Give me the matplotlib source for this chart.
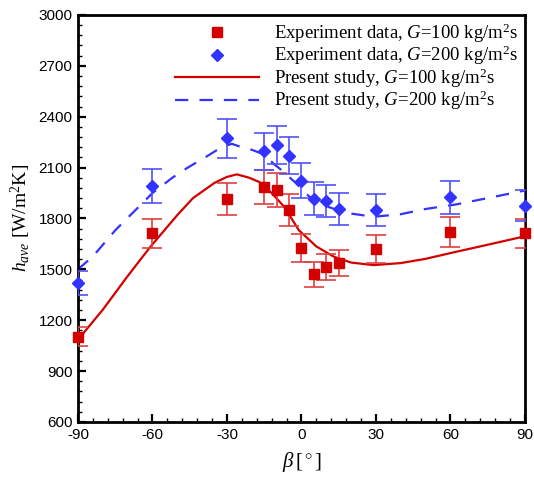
import matplotlib
matplotlib.use("Agg")
import matplotlib.pyplot as plt
from matplotlib.ticker import MultipleLocator

plt.rcParams['font.family'] = ['Liberation Sans', 'DejaVu Sans']
plt.rcParams['mathtext.fontset'] = 'custom'
plt.rcParams['mathtext.rm'] = 'Liberation Serif'
plt.rcParams['mathtext.it'] = 'Liberation Serif:italic'
plt.rcParams['mathtext.bf'] = 'Liberation Serif:bold'
plt.rcParams['axes.unicode_minus'] = False

# Experimental data
beta_exp = [-90, -60, -30, -15, -10, -5, 0, 5, 10, 15, 30, 60, 90]
h_exp_100 = [1104, 1714, 1915, 1984, 1968, 1850, 1626, 1472, 1514, 1539, 1620, 1720, 1714]
h_exp_200 = [1419, 1990, 2273, 2195, 2232, 2171, 2023, 1917, 1905, 1856, 1850, 1925, 1876]
err_frac = 0.05

# Present study curves
beta_sim_100 = [-90, -80, -70, -61, -50, -43.6, -35, -30, -26, -21, -17, -12, -7, -1, 6, 13, 20, 29, 40, 50, 60, 75, 90]
h_sim_100 = [1085, 1262, 1460, 1630, 1820, 1921, 2010, 2045, 2060, 2040, 2015, 1950, 1870, 1730, 1635, 1575, 1540, 1525, 1537, 1562, 1596, 1645, 1695]
beta_sim_200 = [-90, -84, -75, -64, -60, -52, -46, -38, -32, -28, -24, -20, -15, -11, -8, -3, 3, 10, 18, 29, 40, 50, 62, 75, 90]
h_sim_200 = [1500, 1576, 1730, 1891, 1950, 2040, 2098, 2167, 2222, 2240, 2220, 2205, 2177, 2120, 2085, 2019, 1931, 1872, 1833, 1810, 1825, 1856, 1882, 1920, 1965]

xticks = [-90, -60, -30, 0, 30, 60, 90]
yticks = [600, 900, 1200, 1500, 1800, 2100, 2400, 2700, 3000]

fig = plt.figure(figsize=(5.34, 4.82), dpi=100)
ax = fig.add_axes([0.146, 0.1245, 0.837, 0.8445])

red = '#d40000'
blue = '#3333ff'

ax.plot(beta_sim_100, h_sim_100, '-', color=red, lw=1.6, label=r'Present study, $G$=100 kg/m$^2$s', zorder=2)
ax.plot(beta_sim_200, h_sim_200, '--', color=blue, lw=1.6, dashes=(6, 5), label=r'Present study, $G$=200 kg/m$^2$s', zorder=2)

ax.errorbar(beta_exp, h_exp_100, yerr=[v * err_frac for v in h_exp_100], fmt='none',
            ecolor='#e04040', elinewidth=1.2, capsize=7, capthick=1.2, zorder=3)
ax.errorbar(beta_exp, h_exp_200, yerr=[v * err_frac for v in h_exp_200], fmt='none',
            ecolor='#5050ff', elinewidth=1.2, capsize=7, capthick=1.2, zorder=3)
ax.plot(beta_exp, h_exp_100, 's', color=red, ms=7, ls='none', label=r'Experiment data, $G$=100 kg/m$^2$s', zorder=4, clip_on=False)
ax.plot(beta_exp, h_exp_200, 'D', color=blue, ms=6.3, ls='none', label=r'Experiment data, $G$=200 kg/m$^2$s', zorder=4, clip_on=False)

ax.set_xlim(-90, 90)
ax.set_ylim(600, 3000)
ax.set_xticks(xticks)
ax.set_yticks(yticks)
ax.xaxis.set_minor_locator(MultipleLocator(6))
ax.yaxis.set_minor_locator(MultipleLocator(60))
ax.tick_params(which='major', direction='in', length=6, width=1.6, labelsize=11, pad=4)
ax.tick_params(which='minor', direction='in', length=3, width=1.0)
for s in ax.spines.values():
    s.set_linewidth(2)

ax.set_xlabel(r'$\beta\,$[$^\circ$]', fontsize=15, family='Liberation Serif', labelpad=6)
ax.set_ylabel(r'$h_{ave}$ [W/m$^2$K]', fontsize=14, family='Liberation Serif', labelpad=4)

handles, labels = ax.get_legend_handles_labels()
order = [2, 3, 0, 1]
ax.legend([handles[i] for i in order], [labels[i] for i in order], loc='upper right',
          frameon=False, prop={'family': 'Liberation Serif', 'size': 13.5},
          handlelength=4.5, labelspacing=-0.05, borderaxespad=0.05, borderpad=0.3,
          handletextpad=0.8)

fig.savefig('out.png', dpi=100)
